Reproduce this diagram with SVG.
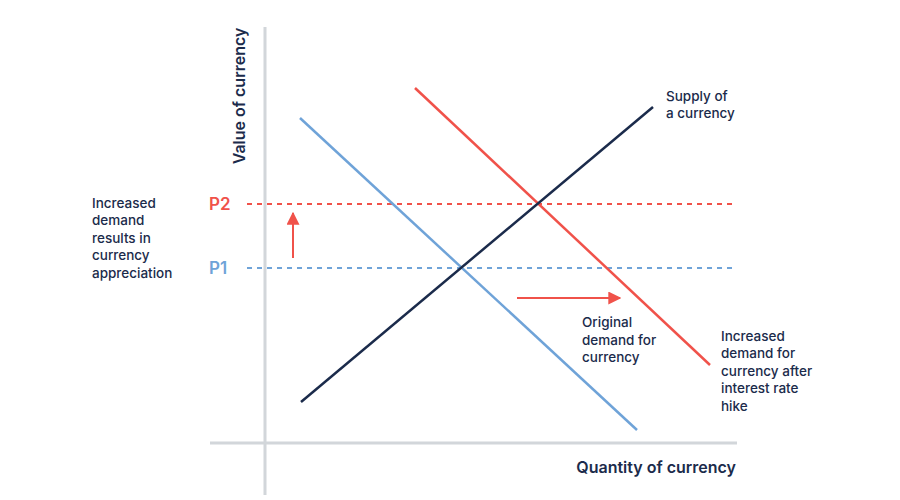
<svg xmlns="http://www.w3.org/2000/svg" width="900" height="500" viewBox="0 0 900 500">
<defs>
<style>
.t{font-family:Inter,"Liberation Sans",sans-serif;font-size:13.5px;font-weight:500;fill:#1b2b4b}
.b{font-family:Inter,"Liberation Sans",sans-serif;font-size:16px;font-weight:600;fill:#1b2b4b}
.p{font-family:Inter,"Liberation Sans",sans-serif;font-size:17px;font-weight:600}
.axis{stroke:#d2d6da;stroke-width:3;fill:none}
.dash{stroke-width:2;stroke-dasharray:5 5;fill:none}
</style>
<marker id="ah" viewBox="0 0 10 10" refX="9" refY="5" markerWidth="6.5" markerHeight="6.5" orient="auto" markerUnits="strokeWidth">
<path d="M0,0L10,5L0,10z" fill="#f0524a"/>
</marker>
</defs>
<rect width="900" height="500" fill="#fff"/>
<g id="axes">
<line class="axis" x1="265" y1="27" x2="265" y2="495"/>
<line class="axis" x1="210" y1="443" x2="737" y2="443"/>
<text class="b" transform="translate(245,96) rotate(-90)" text-anchor="middle">Value of currency</text>
<text class="b" x="736" y="473" text-anchor="end">Quantity of currency</text>
</g>
<g id="price-levels">
<line class="dash" stroke="#f0524a" x1="247" y1="204" x2="737" y2="204"/>
<line class="dash" stroke="#6fa3d8" x1="247" y1="268" x2="737" y2="268"/>
<text class="p" x="209" y="210" fill="#f0524a">P2</text>
<text class="p" x="209" y="274" fill="#6fa3d8">P1</text>
</g>
<g id="curves">
<line x1="300" y1="118" x2="637" y2="430" stroke="#6fa3d8" stroke-width="2.5"/>
<line x1="415" y1="88" x2="710" y2="365" stroke="#f0524a" stroke-width="2.5"/>
<line x1="301" y1="402" x2="653" y2="107" stroke="#1b2b4b" stroke-width="2.5"/>
</g>
<g id="arrows">
<line x1="293" y1="258" x2="293" y2="213" stroke="#f0524a" stroke-width="2" marker-end="url(#ah)"/>
<line x1="517" y1="298" x2="620" y2="298" stroke="#f0524a" stroke-width="2" marker-end="url(#ah)"/>
</g>
<g id="labels">
<text class="t" x="666" y="101">Supply of</text>
<text class="t" x="666" y="118">a currency</text>
<text class="t"><tspan x="582" y="327">Original</tspan><tspan x="582" y="345">demand for</tspan><tspan x="582" y="362">currency</tspan></text>
<text class="t"><tspan x="721" y="341">Increased</tspan><tspan x="721" y="358">demand for</tspan><tspan x="721" y="376">currency after</tspan><tspan x="721" y="393">interest rate</tspan><tspan x="721" y="411">hike</tspan></text>
<text class="t"><tspan x="92" y="208">Increased</tspan><tspan x="92" y="225">demand</tspan><tspan x="92" y="243">results in</tspan><tspan x="92" y="260">currency</tspan><tspan x="92" y="278">appreciation</tspan></text>
</g>
</svg>
